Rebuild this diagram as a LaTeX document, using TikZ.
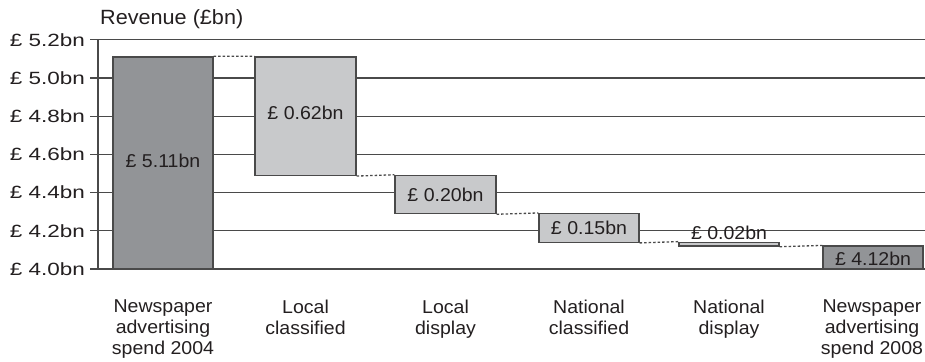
\documentclass[tikz,border=0pt]{standalone}
\usepackage{fontspec}
\setmainfont[FakeStretch=1.05]{Liberation Sans}
\newfontfamily\tickfont[FakeStretch=1.27]{Liberation Sans}
\usetikzlibrary{fit,positioning}
\definecolor{inkgrey}{HTML}{231F20}
\definecolor{bardark}{HTML}{929497}
\definecolor{barlight}{HTML}{C8C9CB}
\definecolor{gridgrey}{HTML}{4A4A4A}
\tikzset{
  gridline/.style={draw=gridgrey, line width=1.2pt},
  bar/.style={draw=gridgrey, line width=1.3pt, inner sep=0pt, fill=#1},
  joinline/.style={draw=gridgrey, line width=1.3pt, dash pattern=on 2.5pt off 2pt},
  txt/.style={text=inkgrey, font=\fontsize{18.6}{20.5}\selectfont, inner sep=0pt},
  ticktxt/.style={txt, font=\tickfont\fontsize{17.7}{20}\selectfont, anchor=east},
  cat/.style={txt, align=center, anchor=north},
}
\begin{document}
\begin{tikzpicture}[x=1pt, y=191pt]
    \useasboundingbox (0,-0.4817) rectangle (925,1.4084);

    % grid lines and value axis
    \foreach \v/\lab [count=\i] in {0/4.0, 0.2/4.2, 0.4/4.4, 0.6/4.6, 0.8/4.8, 1.0/5.0, 1.2/5.2}{
        \draw[gridline] (90,\v) -- (925,\v);
        \node[ticktxt] (tick\i) at (85,\v) {£ \lab bn};
    };
    \draw[gridline] (98,0) -- (98,1.2);
    \node[txt, font=\fontsize{20.6}{24}\selectfont, anchor=base west] (ytitle) at (100,1.2827) {Revenue (£bn)};

    % bars
    \node[bar=bardark, fit={(113,0) (213,1.11)}] (b1) {};
    \node[bar=barlight, fit={(255,0.49) (356,1.11)}] (b2) {};
    \node[bar=barlight, fit={(395,0.29) (496,0.49)}] (b3) {};
    \node[bar=barlight, fit={(539,0.14) (639,0.29)}] (b4) {};
    \node[bar=barlight, fit={(679,0.12) (779,0.14)}] (b5) {};
    \node[bar=bardark, fit={(823,0) (923,0.12)}] (b6) {};

    \draw[joinline] (b1.north east) -- (b2.north west);
    \draw[joinline] (b2.south east) -- (b3.north west);
    \draw[joinline] (b3.south east) -- (b4.north west);
    \draw[joinline] (b4.south east) -- (b5.north west);
    \draw[joinline] (b5.south east) -- (b6.north west);

    % values
    \node[txt] (v1) at ([yshift=2pt]b1.center) {£ 5.11bn};
    \node[txt] (v2) at ([yshift=3pt]b2.center) {£ 0.62bn};
    \node[txt] (v3) at (b3.center) {£ 0.20bn};
    \node[txt] (v4) at (b4.center) {£ 0.15bn};
    \node[txt, above=2pt of b5] (v5) {£ 0.02bn};
    \node[txt] (v6) at ([yshift=-1pt]b6.center) {£ 4.12bn};

    % categories
    \node[cat] (c1) at (163,-0.1623) {Newspaper\\advertising\\spend 2004};
    \node[cat] (c2) at (305.5,-0.1623) {Local\\classified};
    \node[cat] (c3) at (445.5,-0.1623) {Local\\display};
    \node[cat] (c4) at (589,-0.1623) {National\\classified};
    \node[cat] (c5) at (729,-0.1623) {National\\display};
    \node[cat] (c6) at (872,-0.1623) {Newspaper\\advertising\\spend 2008};
\end{tikzpicture}
\end{document}
